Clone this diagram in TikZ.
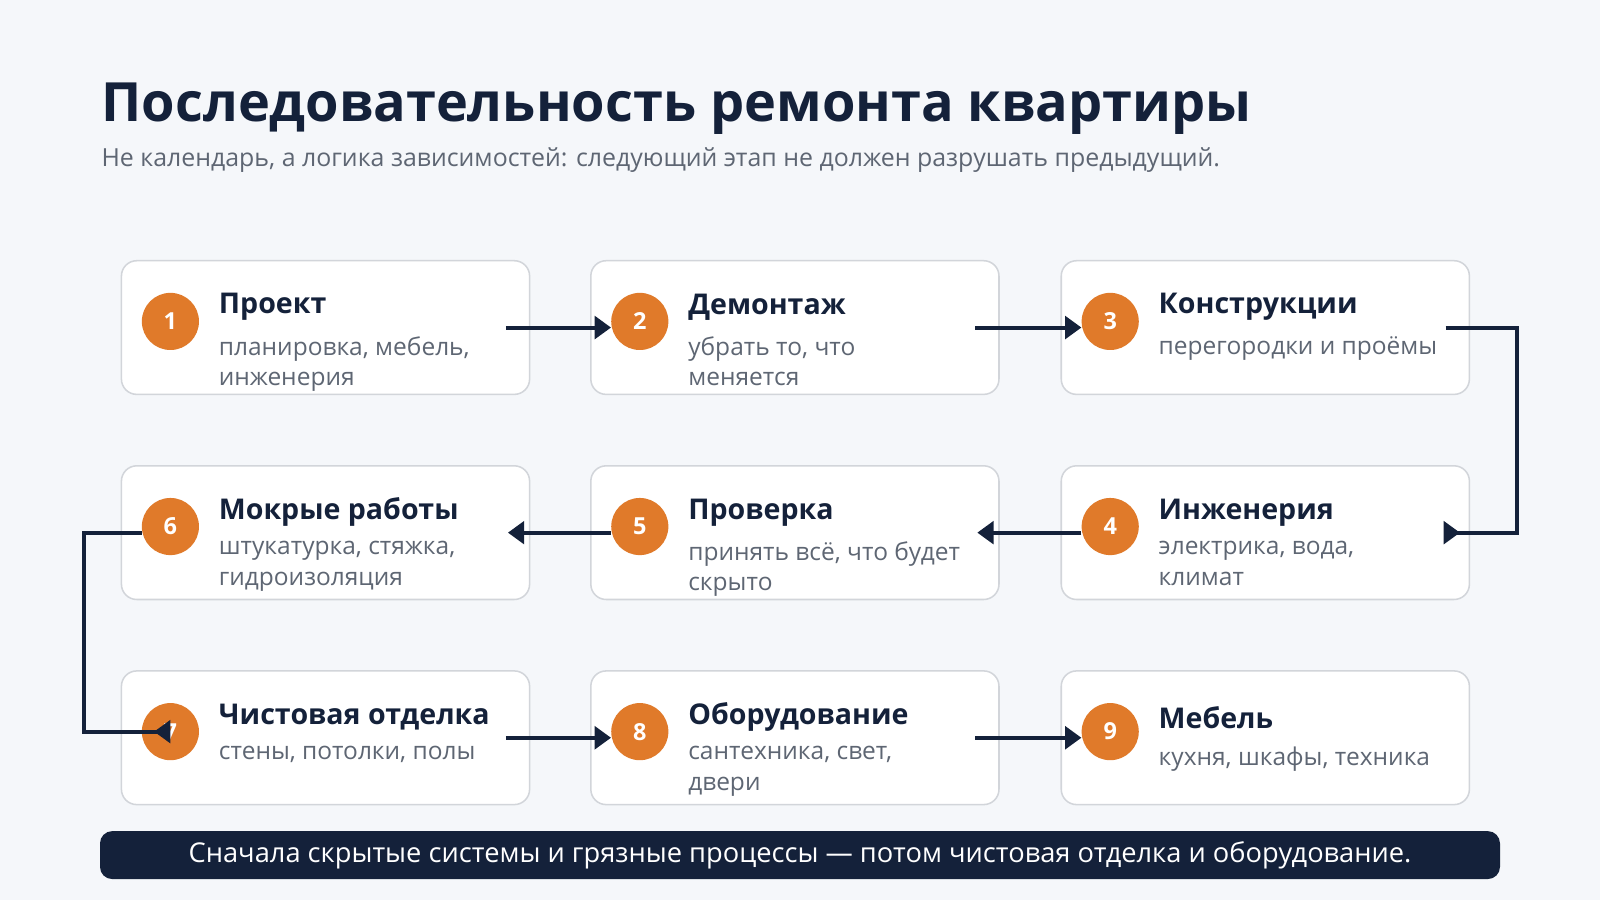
\documentclass[tikz,border=0pt]{standalone}
\usepackage{fontspec}
\setmainfont{Open Sans}
\usetikzlibrary{positioning,arrows.meta}
\definecolor{navy}{HTML}{14213A}
\definecolor{bgc}{HTML}{F5F7FA}
\definecolor{orng}{HTML}{E07A2A}
\definecolor{greytxt}{HTML}{5E6673}
\definecolor{rim}{HTML}{D2D5DA}
\begin{document}
\begin{tikzpicture}[x=1pt,y=-1pt,
  stage/.style={draw=rim, line width=1.5pt, fill=white, rounded corners=15pt, minimum width=400pt, minimum height=131pt, inner sep=0pt},
  num/.style={circle, fill=orng, minimum size=56pt, inner sep=0pt, text=white, font=\fontsize{23}{23}\selectfont\bfseries},
  head/.style={anchor=west, text=navy, font=\fontsize{28}{30}\selectfont\bfseries},
  note/.style={anchor=north west, text=greytxt, align=left, font=\fontsize{24}{30}\selectfont},
  link/.style={navy, line width=4pt, -{Triangle[length=16pt,width=22pt]}},
  bent/.style={navy, line width=4pt, -{Triangle[length=16pt,width=22pt,reversed]}}
]
\fill[bgc] (0,0) rectangle (1568,882);
\useasboundingbox (0,0) rectangle (1568,882);
\node[anchor=west, text=navy, font=\fontsize{53}{53}\selectfont\bfseries] (title) at (96,107) {Последовательность ремонта квартиры};
\node[anchor=west, text=greytxt, font=\fontsize{24.4}{26}\selectfont] (sub) at (96,157) {Не календарь, а логика зависимостей: следующий этап не должен разрушать предыдущий.};
% stages
\foreach \i/\x/\y/\t/\d in {
  1/319/321/Проект/{планировка, мебель,\\инженерия},
  2/779/321/Демонтаж/{убрать то, что\\меняется},
  3/1240/321/Конструкции/{перегородки и проёмы},
  4/1240/522/Инженерия/{электрика, вода,\\климат},
  5/779/522/Проверка/{принять всё, что будет\\скрыто},
  6/319/522/Мокрые работы/{штукатурка, стяжка,\\гидроизоляция},
  7/319/723/Чистовая отделка/{стены, потолки, полы},
  8/779/723/Оборудование/{сантехника, свет,\\двери},
  9/1240/723/Мебель/{кухня, шкафы, техника}}{
  \node[stage] (b\i) at (\x,\y) {};
  \node[num] (c\i) at (\x-152,\y-6) {\i};
  \node[head] (h\i) at (\x-108,\y-20) {\t};
  \node[note] (d\i) at (\x-108,\y+5) {\d};
}
% connectors
\draw[link] ([xshift=-24pt]b1.east) -- (c2.west |- b1.east);
\draw[link] ([xshift=-24pt]b2.east) -- (c3.west |- b2.east);
\draw[link] ([xshift=-24pt]b7.east) -- (c8.west |- b7.east);
\draw[link] ([xshift=-24pt]b8.east) -- (c9.west |- b8.east);
\draw[link] (c4.west |- b4.east) -- ([xshift=-22pt]b5.east);
\draw[link] (c5.west |- b5.east) -- ([xshift=-22pt]b6.east);
\draw[bent] ([xshift=-24pt]b3.east) -| ([xshift=46pt]b3.east) |- ([xshift=-26pt]b4.east);
\draw[bent] (c6.west |- b6.east) -| ([xshift=-36pt]b6.west) |- (c7.center);
% banner
\node[fill=navy, rounded corners=12pt, minimum width=1372pt, minimum height=47pt, text=white, font=\fontsize{26.7}{27}\selectfont] (banner) at (784,838) {Сначала скрытые системы и грязные процессы — потом чистовая отделка и оборудование.};
\end{tikzpicture}
\end{document}
